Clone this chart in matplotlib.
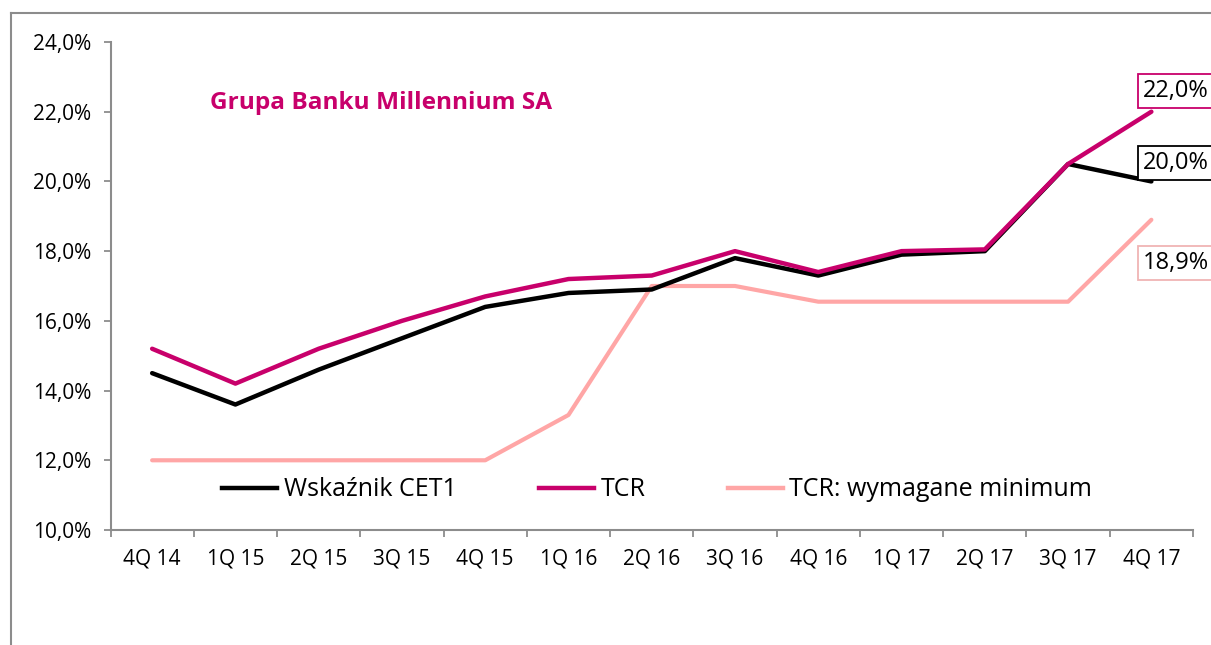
import matplotlib
matplotlib.use("Agg")
import matplotlib.pyplot as plt
from matplotlib.lines import Line2D
from matplotlib.ticker import FuncFormatter, FixedLocator

plt.rcParams['font.family'] = ['Open Sans', 'DejaVu Sans']

categories = ["4Q 14", "1Q 15", "2Q 15", "3Q 15", "4Q 15", "1Q 16", "2Q 16",
              "3Q 16", "4Q 16", "1Q 17", "2Q 17", "3Q 17", "4Q 17"]
cet1 = [14.5, 13.6, 14.6, 15.5, 16.4, 16.8, 16.9, 17.8, 17.3, 17.9, 18.0, 20.5, 20.0]
tcr = [15.2, 14.2, 15.2, 16.0, 16.7, 17.2, 17.3, 18.0, 17.4, 18.0, 18.05, 20.5, 22.0]
tcr_min = [12.0, 12.0, 12.0, 12.0, 12.0, 13.3, 17.0, 17.0, 16.55, 16.55, 16.55, 16.55, 18.9]
series_names = ["Wskaźnik CET1", "TCR", "TCR: wymagane minimum"]
title = "Grupa Banku Millennium SA"

C_BLACK = "#000000"
C_MAG = "#C8006B"
C_PINK = "#FFA6A6"
C_AXIS = "#8C8C8C"

W, H = 1211, 645
fig = plt.figure(figsize=(W / 100, H / 100), dpi=100)
ax = fig.add_axes([110.5 / W, 1 - 530 / H, (1193 - 110.5) / W, (530 - 42) / H])

x = list(range(len(categories)))
ax.plot(x, tcr_min, color=C_PINK, lw=3.0, solid_capstyle='round', label=series_names[2], zorder=2)
ax.plot(x, cet1, color=C_BLACK, lw=3.2, solid_capstyle='round', label=series_names[0], zorder=3)
ax.plot(x, tcr, color=C_MAG, lw=3.2, solid_capstyle='round', label=series_names[1], zorder=4)

ax.set_xlim(-0.5, len(categories) - 0.5)
ax.set_ylim(10, 24)
ax.set_yticks([10, 12, 14, 16, 18, 20, 22, 24])
ax.yaxis.set_major_formatter(FuncFormatter(lambda v, p: f"{v:.1f}%".replace(".", ",")))
ax.set_xticks(x)
ax.set_xticklabels(categories)
ax.xaxis.set_minor_locator(FixedLocator([i - 0.5 for i in range(len(categories) + 1)]))
ax.tick_params(axis='x', which='major', length=0, pad=13, labelsize=15)
ax.tick_params(axis='x', which='minor', length=5, width=1.3, color=C_AXIS, direction='out')
ax.tick_params(axis='y', which='major', length=5, width=1.3, color=C_AXIS, pad=9, labelsize=15)

for s in ['top', 'right']:
    ax.spines[s].set_visible(False)
for s in ['left', 'bottom']:
    ax.spines[s].set_color(C_AXIS)
    ax.spines[s].set_linewidth(1.5)

handles = [Line2D([], [], color=C_BLACK, lw=3.2),
           Line2D([], [], color=C_MAG, lw=3.2),
           Line2D([], [], color=C_PINK, lw=3.2)]
ax.legend(handles, series_names, loc='center', bbox_to_anchor=(0.505, 0.082), ncol=3,
          frameon=False, fontsize=18, handlelength=2.2, handletextpad=0.25,
          columnspacing=3.3)

fig.text(210 / W, 1 - 103 / H, title, color=C_MAG, fontsize=17.6, fontweight='bold',
         ha='left', va='center')

# end-value labels
labels = [(tcr[-1], C_MAG, 91), (cet1[-1], C_BLACK, 163), (tcr_min[-1], "#F0B4B4", 263)]
for val, ec, ypx in labels:
    fig.text(1143 / W, 1 - ypx / H, f"{val:.1f}%".replace(".", ","), fontsize=17,
             ha='left', va='center', color='black',
             bbox=dict(boxstyle='square,pad=0.22', fc='white', ec=ec, lw=1.3))

# outer frame
fig.add_artist(Line2D([11 / W, 11 / W], [0, 1 - 13 / H], color=C_AXIS, lw=1.5, transform=fig.transFigure))
fig.add_artist(Line2D([11 / W, 1], [1 - 13 / H, 1 - 13 / H], color=C_AXIS, lw=1.5, transform=fig.transFigure))

fig.savefig("out.png", dpi=100)
